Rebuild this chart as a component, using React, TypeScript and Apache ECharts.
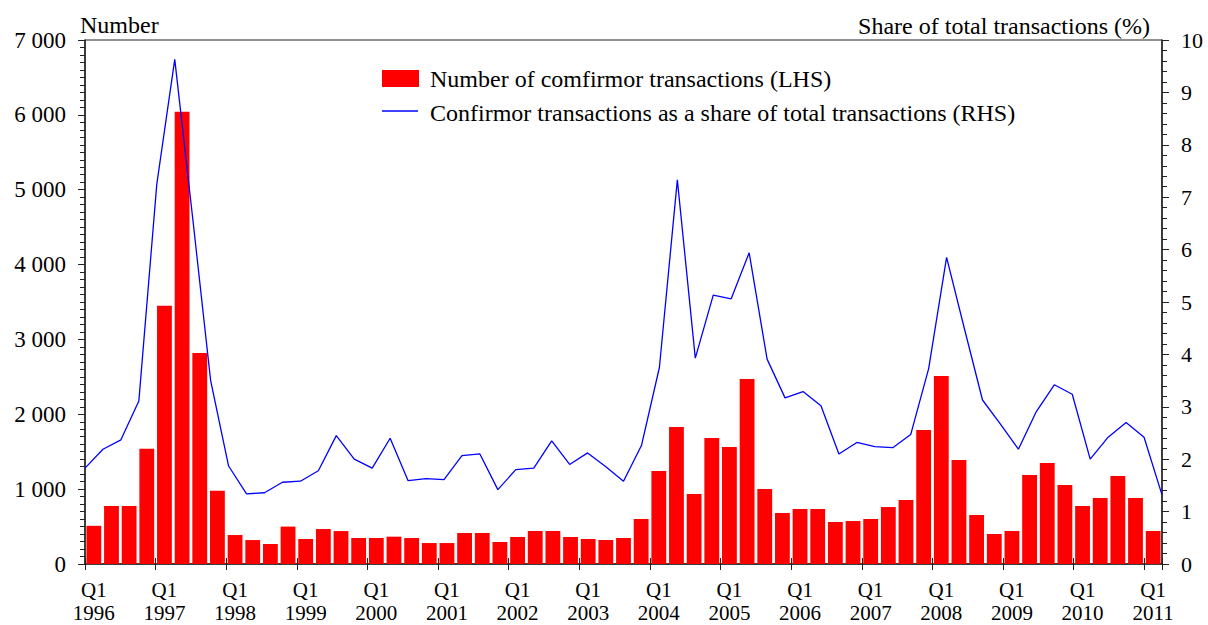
import React, { useEffect, useRef } from "react";
import * as echarts from "echarts";

const years = [1996, 1997, 1998, 1999, 2000, 2001, 2002, 2003, 2004, 2005, 2006, 2007, 2008, 2009, 2010, 2011];
const quarters = ["Q1", "Q2", "Q3", "Q4"];
const categories: string[] = [];
years.forEach((y) => quarters.forEach((q) => { if (y < 2011 || q === "Q1") categories.push(q + " " + y); }));

const confirmorCount = [
  510, 775, 775, 1540, 3450, 6040, 2820, 980,
  387, 320, 267, 500, 334, 467, 440, 347,
  347, 365, 347, 280, 280, 414, 414, 294,
  361, 441, 441, 361, 334, 321, 347, 601,
  1242, 1830, 935, 1683, 1563, 2470, 1002, 681,
  735, 735, 561, 574, 601, 761, 855, 1790,
  2510, 1389, 655, 401, 441, 1189, 1349, 1055,
  775, 882, 1176, 882, 441,
];

const confirmorShare = [
  1.83, 2.19, 2.37, 3.11, 7.25, 9.63, 6.6, 3.5,
  1.87, 1.34, 1.36, 1.56, 1.58, 1.78, 2.45, 2.0,
  1.83, 2.4, 1.59, 1.63, 1.61, 2.07, 2.1, 1.42,
  1.8, 1.83, 2.35, 1.9, 2.12, 1.86, 1.58, 2.26,
  3.75, 7.33, 3.93, 5.13, 5.06, 5.94, 3.91, 3.17,
  3.29, 3.02, 2.1, 2.32, 2.24, 2.22, 2.47, 3.73,
  5.85, 4.48, 3.13, 2.67, 2.19, 2.91, 3.42, 3.24,
  2.0, 2.42, 2.7, 2.42, 1.32,
];

const barName = "Number of comfirmor transactions (LHS)";
const lineName = "Confirmor transactions as a share of total transactions (RHS)";
const leftTitle = "Number";
const rightTitle = "Share of total transactions (%)";

const FONT = "Liberation Serif, Times New Roman, serif";
const AXIS = "#222";
const BAR_COLOR = "#ff0000";
const LINE_COLOR = "#0000ff";

export default function App() {
  const ref = useRef<HTMLDivElement>(null);
  useEffect(() => {
    if (!ref.current) return;
    const chart = echarts.init(ref.current, undefined, { renderer: "svg" });
    const isQ1 = (idx: number) => idx % 4 === 0;
    chart.setOption({
      animation: false,
      backgroundColor: "#fff",
      textStyle: { fontFamily: FONT, color: "#000" },
      grid: {
        left: 85, right: 46, top: 40, bottom: 61,
        outerBoundsMode: "none",
        containLabel: false,
        show: true, borderColor: AXIS, borderWidth: 1, backgroundColor: "transparent",
      },
      xAxis: [
        {
          type: "category",
          data: categories,
          position: "bottom",
          boundaryGap: true,
          axisLine: { show: true, lineStyle: { color: AXIS, width: 1.5 } },
          axisTick: { show: true, interval: (idx: number) => isQ1(idx), length: 6, lineStyle: { color: AXIS } },
          axisLabel: {
            interval: (idx: number) => isQ1(idx),
            formatter: (v: string) => { const p = v.split(" "); return p[0] + "\n" + p[1]; },
            fontFamily: FONT, fontSize: 21, color: "#000", lineHeight: 23, margin: 14,
          },
          splitLine: { show: false },
        },
        {
          type: "category",
          data: categories,
          boundaryGap: false,
          show: false,
        },
        {
          type: "category",
          data: categories,
          position: "bottom",
          boundaryGap: true,
          axisLine: { show: false },
          axisTick: { show: true, inside: true, interval: (idx: number) => isQ1(idx), length: 6, lineStyle: { color: AXIS } },
          axisLabel: { show: false },
          splitLine: { show: false },
        },
      ],
      yAxis: [
        {
          type: "value",
          min: 0, max: 7000, interval: 1000,
          position: "left",
          axisLine: { show: true, lineStyle: { color: AXIS, width: 1.5 } },
          axisTick: { show: true, length: 7, lineStyle: { color: AXIS } },
          minorTick: { show: true, splitNumber: 10, length: 5, lineStyle: { color: AXIS } },
          splitLine: { show: false },
          axisLabel: {
            fontFamily: FONT, fontSize: 23, color: "#000", margin: 19,
            formatter: (v: number) => String(v).replace(/\B(?=(\d{3})+(?!\d))/g, " "),
          },
        },
        {
          type: "value",
          min: 0, max: 10, interval: 1,
          position: "right",
          axisLine: { show: true, lineStyle: { color: AXIS, width: 1.5 } },
          axisTick: { show: true, length: 7, lineStyle: { color: AXIS } },
          minorTick: { show: true, splitNumber: 5, length: 5, lineStyle: { color: AXIS } },
          splitLine: { show: false },
          axisLabel: { fontFamily: FONT, fontSize: 22, color: "#000", margin: 19 },
        },
      ],
      graphic: [
        { type: "text", left: 80, top: 13, style: { text: leftTitle, fontFamily: FONT, fontSize: 24, fill: "#000" } },
        { type: "text", right: 58, top: 14, style: { text: rightTitle, fontFamily: FONT, fontSize: 24, fill: "#000" } },
        { type: "rect", shape: { x: 382, y: 70, width: 37, height: 17 }, style: { fill: BAR_COLOR } },
        { type: "line", shape: { x1: 382, y1: 111, x2: 418, y2: 111 }, style: { stroke: LINE_COLOR, lineWidth: 1.3 } },
        { type: "text", x: 430, y: 79, style: { text: barName, fontFamily: FONT, fontSize: 24, fill: "#000", textVerticalAlign: "middle" } },
        { type: "text", x: 430, y: 112.5, style: { text: lineName, fontFamily: FONT, fontSize: 24, fill: "#000", textVerticalAlign: "middle" } },
      ],
      series: [
        {
          name: barName,
          type: "bar",
          xAxisIndex: 0,
          yAxisIndex: 0,
          data: confirmorCount,
          barCategoryGap: "16%",
          itemStyle: { color: BAR_COLOR },
        },
        {
          name: lineName,
          type: "line",
          xAxisIndex: 1,
          yAxisIndex: 1,
          data: confirmorShare,
          symbol: "none",
          lineStyle: { color: LINE_COLOR, width: 1.3 },
          itemStyle: { color: LINE_COLOR },
        },
      ],
    });
    return () => chart.dispose();
  }, []);
  return <div ref={ref} style={{ position: "fixed", left: 0, top: 0, width: 1208, height: 625 }} />;
}
